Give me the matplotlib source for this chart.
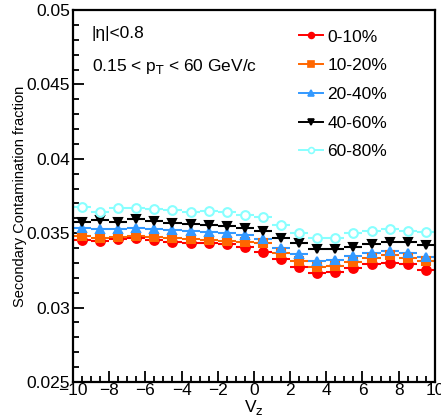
import numpy as np
import matplotlib.pyplot as plt
from matplotlib.lines import Line2D
from matplotlib.ticker import MultipleLocator

plt.rcParams['font.family'] = ['Liberation Sans', 'DejaVu Sans']

vz = np.arange(-9.5, 10, 1.0)

frac_0_10 = [0.03454, 0.03448, 0.03461, 0.03468, 0.03454, 0.03441, 0.03434, 0.03434, 0.03427, 0.03407,
             0.03374, 0.03327, 0.03273, 0.03233, 0.03239, 0.03266, 0.03293, 0.03300, 0.03293, 0.03253]
frac_10_20 = [0.03481, 0.03468, 0.03474, 0.03481, 0.03474, 0.03468, 0.03461, 0.03454, 0.03448, 0.03441,
              0.03434, 0.03367, 0.03313, 0.03273, 0.03280, 0.03306, 0.03333, 0.03353, 0.03333, 0.03313]
frac_20_40 = [0.03535, 0.03528, 0.03528, 0.03535, 0.03528, 0.03522, 0.03515, 0.03508, 0.03501, 0.03488,
              0.03461, 0.03401, 0.03360, 0.03313, 0.03320, 0.03347, 0.03367, 0.03380, 0.03367, 0.03340]
frac_40_60 = [0.03575, 0.03589, 0.03575, 0.03595, 0.03582, 0.03569, 0.03562, 0.03555, 0.03548, 0.03535,
              0.03515, 0.03468, 0.03434, 0.03394, 0.03394, 0.03407, 0.03427, 0.03441, 0.03441, 0.03421]
frac_60_80 = [0.03676, 0.03642, 0.03669, 0.03669, 0.03663, 0.03656, 0.03642, 0.03649, 0.03642, 0.03622,
              0.03609, 0.03555, 0.03501, 0.03468, 0.03468, 0.03501, 0.03515, 0.03528, 0.03515, 0.03508]

labels = ["0-10%", "10-20%", "20-40%", "40-60%", "60-80%"]
series = [frac_0_10, frac_10_20, frac_20_40, frac_40_60, frac_60_80]
colors = ["#ff0000", "#ff6600", "#3399ff", "#000000", "#88ffff"]
markers = ["o", "s", "^", "v", "o"]
filled = [True, True, True, True, False]

fig = plt.figure(figsize=(4.41, 4.19), dpi=100)
ax = fig.add_axes([0.1655, 0.0883, 0.8205, 0.8878])

handles = []
for y, lab, c, m, f in zip(series, labels, colors, markers, filled):
    fc = c if f else "white"
    ax.errorbar(vz, y, xerr=0.5, fmt=m, color=c, ecolor=c, mfc=fc, mec=c,
                ms=6.3, mew=1.5, elinewidth=1.5, capsize=0)
    handles.append(Line2D([], [], color=c, marker=m, mfc=fc, mec=c, ms=4.2,
                          mew=1.2, lw=1.4, label=lab))

ax.set_xlim(-10, 10)
ax.set_ylim(0.025, 0.05)
ax.xaxis.set_major_locator(MultipleLocator(2))
ax.xaxis.set_minor_locator(MultipleLocator(0.5))
ax.yaxis.set_major_locator(MultipleLocator(0.005))
ax.yaxis.set_minor_locator(MultipleLocator(0.001))
ax.yaxis.set_major_formatter(plt.FuncFormatter(lambda v, p: "%g" % round(v, 4)))
ax.tick_params(which="both", direction="in", labelsize=12.5, width=1.3)
ax.tick_params(which="major", length=8)
ax.tick_params(which="minor", length=4)
ax.tick_params(axis="x", pad=1)
ax.tick_params(axis="y", pad=2)
for s in ax.spines.values():
    s.set_linewidth(1.6)

ax.set_xlabel(r"V$_{\rm z}$", fontsize=12.5, labelpad=0)
ax.set_ylabel("Secondary Contamination fraction", fontsize=10.5)
ax.yaxis.set_label_coords(-0.128, 0.5)

ax.text(0.052, 0.938, "|η|<0.8", transform=ax.transAxes, fontsize=12.5, va="center")
ax.text(0.052, 0.847, r"0.15 < p$_{\rm T}$ < 60 GeV/c", transform=ax.transAxes,
        fontsize=12.5, va="center")

ax.legend(handles=handles, loc="upper left", bbox_to_anchor=(0.582, 0.99),
          frameon=False, fontsize=12.5, handlelength=1.38, handletextpad=0.25,
          labelspacing=0.78)

fig.savefig("out.png", dpi=100)
